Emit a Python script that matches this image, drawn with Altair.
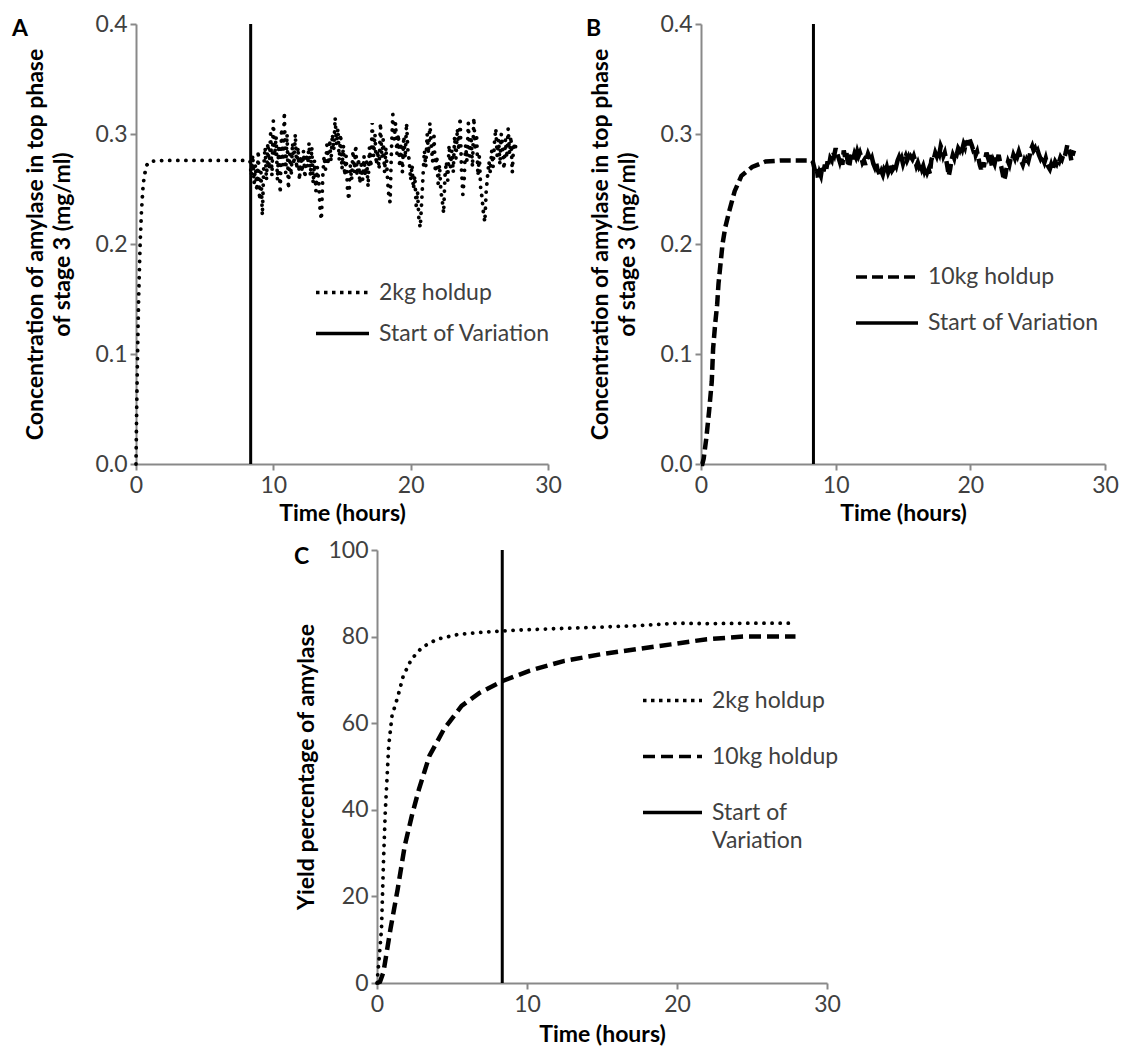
import altair as alt
import pandas as pd

FONT = "Lato"
AXIS_GREY = "#898989"
LABEL_GREY = "#404040"

# ---------------- Panel A : 2kg holdup, concentration ----------------
A_RAMP_T = [0, 0.05, 0.1, 0.15, 0.2, 0.3, 0.4, 0.5, 0.6, 0.8, 1.0, 2, 3, 4, 5, 6, 7, 8, 8.2]
A_RAMP_V = [0, 0.05, 0.09, 0.125, 0.155, 0.2, 0.23, 0.25, 0.262, 0.272, 0.275, 0.276, 0.276,
            0.276, 0.276, 0.276, 0.276, 0.276, 0.276]
A_NOISE_START = 8.3
A_NOISE_STEP = 0.1
A_NOISE_V = [
    0.275, 0.262, 0.281, 0.255, 0.272, 0.248, 0.285, 0.240, 0.265, 0.226,
    0.270, 0.288, 0.258, 0.292, 0.268, 0.300, 0.262, 0.312, 0.280, 0.298,
    0.258, 0.290, 0.246, 0.305, 0.272, 0.320, 0.265, 0.300, 0.250, 0.282,
    0.262, 0.292, 0.272, 0.300, 0.268, 0.288, 0.258, 0.280, 0.265, 0.285,
    0.260, 0.282, 0.270, 0.292, 0.262, 0.288, 0.255, 0.276, 0.248, 0.270,
    0.258, 0.232, 0.222, 0.262, 0.280, 0.268, 0.290, 0.272, 0.295, 0.275,
    0.300, 0.285, 0.315, 0.290, 0.305, 0.276, 0.300, 0.268, 0.290, 0.262,
    0.280, 0.250, 0.240, 0.272, 0.258, 0.285, 0.265, 0.290, 0.262, 0.278,
    0.255, 0.272, 0.258, 0.280, 0.262, 0.275, 0.252, 0.288, 0.270, 0.310,
    0.280, 0.300, 0.272, 0.285, 0.268, 0.310, 0.278, 0.295, 0.265, 0.288,
    0.262, 0.245, 0.238, 0.285, 0.318, 0.295, 0.310, 0.282, 0.300, 0.270,
    0.292, 0.265, 0.298, 0.278, 0.310, 0.285, 0.275, 0.258, 0.272, 0.250,
    0.262, 0.235, 0.248, 0.222, 0.215, 0.238, 0.262, 0.285, 0.270, 0.300,
    0.282, 0.310, 0.290, 0.275, 0.298, 0.265, 0.280, 0.255, 0.272, 0.248,
    0.240, 0.228, 0.262, 0.275, 0.258, 0.290, 0.270, 0.285, 0.265, 0.298,
    0.278, 0.305, 0.285, 0.315, 0.268, 0.245, 0.260, 0.290, 0.275, 0.310,
    0.280, 0.298, 0.270, 0.315, 0.285, 0.300, 0.262, 0.280, 0.250, 0.242,
    0.228, 0.220, 0.248, 0.262, 0.275, 0.265, 0.285, 0.270, 0.292, 0.305,
    0.280, 0.295, 0.272, 0.300, 0.285, 0.268, 0.295, 0.278, 0.305, 0.282,
    0.298, 0.265, 0.292, 0.285, 0.295,
]

# ---------------- Panel B : 10kg holdup, concentration ----------------
B_RAMP_T = [0, 0.1, 0.2, 0.4, 0.6, 0.8, 0.9, 1.05, 1.2, 1.3, 1.45, 1.6, 1.8, 2.1, 2.5, 3.0,
            3.8, 4.8, 6, 7, 8, 8.2]
B_RAMP_V = [0, 0.0, 0.005, 0.024, 0.048, 0.075, 0.105, 0.127, 0.145, 0.164, 0.182, 0.2, 0.215,
            0.23, 0.248, 0.262, 0.27, 0.275, 0.276, 0.276, 0.276, 0.276]
B_NOISE_START = 8.3
B_NOISE_STEP = 0.1
B_NOISE_V = [
    0.275, 0.270, 0.264, 0.268, 0.259, 0.265, 0.262, 0.270, 0.266, 0.272,
    0.268, 0.275, 0.271, 0.278, 0.276, 0.284, 0.281, 0.287, 0.283, 0.279,
    0.275, 0.280, 0.272, 0.285, 0.279, 0.283, 0.274, 0.270, 0.278, 0.282,
    0.277, 0.282, 0.279, 0.284, 0.280, 0.283, 0.279, 0.274, 0.276, 0.272,
    0.278, 0.282, 0.279, 0.275, 0.278, 0.273, 0.270, 0.274, 0.268, 0.265,
    0.262, 0.266, 0.263, 0.268, 0.266, 0.270, 0.265, 0.268, 0.272, 0.267,
    0.269, 0.274, 0.271, 0.276, 0.279, 0.275, 0.278, 0.273, 0.277, 0.280,
    0.276, 0.279, 0.275, 0.279, 0.277, 0.280, 0.276, 0.271, 0.274, 0.270,
    0.272, 0.268, 0.271, 0.266, 0.269, 0.265, 0.268, 0.264, 0.276, 0.280,
    0.278, 0.283, 0.280, 0.285, 0.282, 0.289, 0.286, 0.280, 0.283, 0.277,
    0.270, 0.262, 0.268, 0.276, 0.281, 0.278, 0.284, 0.282, 0.287, 0.285,
    0.289, 0.286, 0.291, 0.288, 0.294, 0.290, 0.297, 0.293, 0.290, 0.286,
    0.288, 0.281, 0.284, 0.278, 0.272, 0.268, 0.274, 0.270, 0.277, 0.283,
    0.279, 0.283, 0.277, 0.271, 0.276, 0.273, 0.279, 0.276, 0.281, 0.275,
    0.270, 0.264, 0.258, 0.262, 0.270, 0.275, 0.272, 0.278, 0.276, 0.281,
    0.278, 0.283, 0.280, 0.284, 0.280, 0.275, 0.272, 0.276, 0.273, 0.277,
    0.275, 0.280, 0.286, 0.289, 0.285, 0.287, 0.283, 0.285, 0.281, 0.278,
    0.281, 0.277, 0.274, 0.278, 0.273, 0.270, 0.268, 0.272, 0.268, 0.271,
    0.275, 0.273, 0.277, 0.275, 0.279, 0.277, 0.281, 0.279, 0.284, 0.290,
    0.287, 0.283, 0.276, 0.281, 0.285,
]

# ---------------- Panel C : yield percentage ----------------
C_2KG_T = [0, 0.15, 0.3, 0.43, 0.55, 0.78, 1.0, 1.4, 1.75, 2.3, 3.0, 4.0, 5.4, 7, 8.4, 10,
           12.5, 15, 17.3, 20.1, 22, 25, 27.5]
C_2KG_V = [0, 6, 12.5, 27.8, 39.4, 54.8, 61.7, 66.3, 70.9, 74.8, 77.5, 79.4, 80.5, 81, 81.3,
           81.6, 81.9, 82.2, 82.5, 83.1, 83.0, 83.1, 83.1]
C_10KG_T = [0, 0.2, 0.43, 0.9, 1.38, 1.85, 2.32, 2.8, 3.5, 4.46, 5.64, 6.83, 8.42, 10.15, 12.5,
            14.9, 17.3, 19.6, 22, 24.4, 26, 27.9]
C_10KG_V = [0, 0.3, 2.5, 12.5, 21.7, 31.7, 38.6, 44.8, 52.5, 58.6, 64, 67, 69.8, 72.1, 74.4,
            75.9, 77.1, 78.2, 79.4, 80, 80, 80]

VARIATION_T = 8.35
X_TICKS = [0, 10, 20, 30]
CONC_TICKS = [0, 0.1, 0.2, 0.3, 0.4]
YIELD_TICKS = [0, 20, 40, 60, 80, 100]
CONC_TITLE = ["Concentration of amylase in top phase", "of stage 3 (mg/ml)"]
YIELD_TITLE = "Yield  percentage of amylase"
X_TITLE = "Time (hours)"
VAR_NAME = "Start of Variation"

DOT_STYLE = dict(strokeDash=[0.1, 8], strokeCap="round", strokeWidth=3.8)
DASH_STYLE_B = dict(strokeDash=[11, 5], strokeCap="butt", strokeWidth=4.5)
DASH_STYLE_C = dict(strokeDash=[12, 6], strokeCap="butt", strokeWidth=4.5)
LEGEND_DASH = {"dot": [3.5, 4.5], "dashB": [11, 5], "dashC": [12, 6], "solid": [1, 0]}


def grid_times(start, step, n):
    return [round(start + step * i, 2) for i in range(n)]


def panel(lines, letter, letter_xy, y_title, y_domain, y_ticks, y_format, width, height,
          legend_xy, sym_len, row_pad, legend_ranges, y_title_pad, x_title_pad, wrap_label):
    names = [ln[0] for ln in lines] + [VAR_NAME]
    label_expr = "datum.label"
    if wrap_label:
        label_expr = "datum.label == 'Start of Variation' ? ['Start of', 'Variation'] : datum.label"
    dash = alt.StrokeDash(
        "series:N",
        scale=alt.Scale(domain=names, range=legend_ranges),
        legend=alt.Legend(
            title=None, orient="none", legendX=legend_xy[0], legendY=legend_xy[1],
            symbolType="stroke", symbolSize=sym_len * sym_len, symbolStrokeWidth=3.5,
            symbolStrokeColor="black", labelFont=FONT, labelFontSize=23,
            labelColor=LABEL_GREY, rowPadding=row_pad, padding=0, labelOffset=8,
            labelLimit=400, labelExpr=label_expr,
        ),
    )
    x_enc = alt.X("t:Q", scale=alt.Scale(domain=[0, 30], nice=False),
                  axis=alt.Axis(values=X_TICKS, title=X_TITLE, titlePadding=x_title_pad,
                                labelFlush=False, labelPadding=4))
    y_enc = alt.Y("v:Q", scale=alt.Scale(domain=y_domain, nice=False),
                  axis=alt.Axis(values=y_ticks, format=y_format, title=y_title,
                                titlePadding=y_title_pad, titleLineHeight=27, labelFlush=False))
    layers = []
    for name, ts, vs, style in lines:
        df = pd.DataFrame({"t": ts, "v": vs})
        layers.append(alt.Chart(df).mark_line(color="black", **style).encode(x=x_enc, y=y_enc))
    # legend carrier for the curves (single points draw nothing visible)
    key_df = pd.DataFrame({"t": [0.0] * len(lines), "v": [0.0] * len(lines),
                           "series": [ln[0] for ln in lines]})
    layers.append(alt.Chart(key_df).mark_line(color="black", strokeOpacity=0).encode(
        x="t:Q", y="v:Q", strokeDash=dash))
    layers.append(alt.Chart(pd.DataFrame({"t": [VARIATION_T], "series": [VAR_NAME]})).mark_rule(
        color="black", strokeWidth=3
    ).encode(x="t:Q", strokeDash=dash))
    layers.append(alt.Chart(pd.DataFrame({"label": [letter]})).mark_text(
        font=FONT, fontSize=23, fontWeight="bold", align="left", baseline="middle", color="black"
    ).encode(x=alt.value(letter_xy[0]), y=alt.value(letter_xy[1]), text="label:N"))
    return alt.layer(*layers).properties(width=width, height=height)


A = panel(
    [("2kg holdup", A_RAMP_T + grid_times(A_NOISE_START, A_NOISE_STEP, len(A_NOISE_V)),
      A_RAMP_V + A_NOISE_V, DOT_STYLE)],
    "A", (-124, 5), CONC_TITLE, [0, 0.4], CONC_TICKS, ".1f", 412, 440,
    (178, 240), 53, 0, [LEGEND_DASH["dot"], LEGEND_DASH["solid"]], 20, 5, False,
)
B = panel(
    [("10kg holdup", B_RAMP_T + grid_times(B_NOISE_START, B_NOISE_STEP, len(B_NOISE_V)),
      B_RAMP_V + B_NOISE_V, DASH_STYLE_B)],
    "B", (-115, 5), CONC_TITLE, [0, 0.4], CONC_TICKS, ".1f", 404, 440,
    (153, 220), 62, 1, [LEGEND_DASH["dashB"], LEGEND_DASH["solid"]], 20, 5, False,
)
C = panel(
    [("2kg holdup", C_2KG_T, C_2KG_V, DOT_STYLE), ("10kg holdup", C_10KG_T, C_10KG_V, DASH_STYLE_C)],
    "C", (-83, 7), YIELD_TITLE, [0, 100], YIELD_TICKS, "d", 450, 433,
    (264, 119), 59, 12, [LEGEND_DASH["dot"], LEGEND_DASH["dashC"], LEGEND_DASH["solid"]], 9, 7, True,
)

# invisible spacer that sets the left offset of panel C
SPACER_W = 158
spacer = alt.Chart(pd.DataFrame({"s": [0]})).mark_point(opacity=0, size=1).encode(
    x=alt.value(SPACER_W / 2), y=alt.value(1)
).properties(width=SPACER_W, height=2)

top = alt.hconcat(A, B, spacing=24).resolve_scale(
    strokeDash="independent", x="independent", y="independent"
).resolve_legend(strokeDash="independent")

bottom = alt.hconcat(spacer, C, spacing=0).resolve_scale(
    strokeDash="independent", x="independent", y="independent"
).resolve_legend(strokeDash="independent")

chart = alt.vconcat(top, bottom, spacing=14).resolve_scale(
    strokeDash="independent", x="independent", y="independent"
).resolve_legend(strokeDash="independent").properties(
    padding={"left": 4, "top": 5, "right": 0, "bottom": 0}
).configure(
    style={"guide-label": {"lineHeight": 28}}
).configure_view(stroke=None).configure_axis(
    grid=False, domainColor=AXIS_GREY, domainWidth=2, tickColor=AXIS_GREY, tickWidth=2,
    tickSize=6, labelFont=FONT, labelFontSize=23, labelColor=LABEL_GREY, labelPadding=3,
    titleFont=FONT, titleFontSize=23, titleFontWeight="bold", titleColor="black",
)

chart.save("out.html", embed_options={"renderer": "svg", "actions": False})
